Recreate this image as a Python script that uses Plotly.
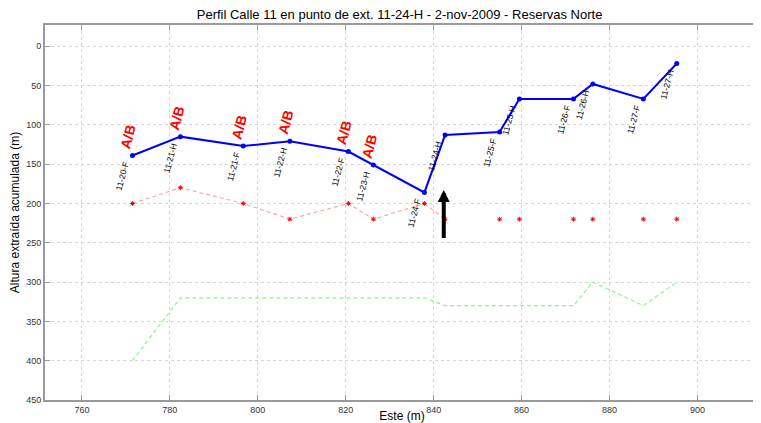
import plotly.graph_objects as go

# Eastings of each extraction point and their labels
este = [771.5, 782.4, 796.7, 807.3, 820.6, 826.3, 837.9, 842.6,
        855.0, 859.5, 871.8, 876.2, 887.7, 895.3]
puntos = ["11-20-F", "11-21-H", "11-21-F", "11-22-H", "11-22-F", "11-23-H",
          "11-24-F", "11-24-H", "11-25-F", "11-25-H", "11-26-F", "11-26-H",
          "11-27-F", "11-27-H"]

altura_extraida = [139, 115, 127, 121, 134, 151, 186, 113, 109, 67, 67, 48, 67, 22]
altura_ref = [200, 180, 200, 220, 200, 220, 200, 220, 220, 220, 220, 220, 220, 220]
n_ref_linea = 8  # the red dashed line stops at 11-24-H, rest are isolated marks
altura_limite = [400, 320, 320, 320, 320, 320, 320, 330, 330, 330, 330, 300, 330, 300]

ab_puntos = ["11-20-F", "11-21-H", "11-21-F", "11-22-H", "11-22-F", "11-23-H"]

# arrow marking the current extraction point
flecha_x = 842.3
flecha_y = [246, 183]

x_ticks = [760, 780, 800, 820, 840, 860, 880, 900]
y_ticks = [0, 50, 100, 150, 200, 250, 300, 350, 400, 450]

FONT = "Liberation Sans, Arial, sans-serif"

fig = go.Figure()

fig.add_trace(go.Scatter(
    x=este, y=altura_limite, mode="lines",
    line=dict(color="#8cf58c", width=1.2, dash="4px,3px"),
    showlegend=False,
))
fig.add_trace(go.Scatter(
    x=este[:n_ref_linea], y=altura_ref[:n_ref_linea], mode="lines",
    line=dict(color="#ffa0a0", width=1.1, dash="4px,3px"),
    showlegend=False,
))
fig.add_trace(go.Scatter(
    x=este, y=altura_ref, mode="markers",
    marker=dict(symbol="asterisk-open", size=4, color="red",
                line=dict(color="red", width=1)),
    showlegend=False,
))
fig.add_trace(go.Scatter(
    x=este, y=altura_extraida, mode="lines+markers",
    line=dict(color="#0000ff", width=2),
    marker=dict(color="#0000ff", size=5),
    showlegend=False,
))

for xv, yv, name in zip(este, altura_extraida, puntos):
    fig.add_annotation(
        x=xv, y=yv, text=name, showarrow=False, textangle=-75,
        xanchor="right", yanchor="top", yshift=-3, xshift=1,
        font=dict(family=FONT, size=8.5, color="black"),
    )
    if name in ab_puntos:
        fig.add_annotation(
            x=xv, y=yv, text="<b>A/B</b>", showarrow=False, textangle=-75,
            xanchor="center", yanchor="bottom", yshift=3, xshift=-4,
            font=dict(family=FONT, size=14, color="red"),
        )

fig.add_annotation(
    x=flecha_x, y=flecha_y[1], ax=flecha_x, ay=flecha_y[0],
    xref="x", yref="y", axref="x", ayref="y",
    text="", showarrow=True, arrowhead=2, arrowsize=0.6,
    arrowwidth=4, arrowcolor="black",
)

# page body has an 8px margin, so the figure is sized 8px smaller
fig.update_layout(
    width=753,
    height=415,
    title=dict(
        text="Perfil Calle 11 en punto de ext. 11-24-H - 2-nov-2009 - Reservas Norte",
        x=0.52, xanchor="center", y=0.995, yanchor="top",
        font=dict(family=FONT, size=13, color="black"),
    ),
    font=dict(family=FONT, size=9, color="#333333"),
    plot_bgcolor="white",
    paper_bgcolor="white",
    margin=dict(l=37, r=0, t=17, b=20),
)

fig.update_xaxes(
    range=[751.6, 914.0], tickvals=x_ticks,
    showgrid=True, gridcolor="#d6d6d6", griddash="dot", gridwidth=1,
    showline=True, linecolor="#9a9a9a", linewidth=2, mirror="ticks",
    ticks="inside", ticklen=5, tickcolor="#9a9a9a",
    zeroline=False,
    title=dict(text="Este (m)", font=dict(family=FONT, size=12, color="black"),
               standoff=0),
)
fig.update_yaxes(
    range=[450, -27], tickvals=y_ticks,
    showgrid=True, gridcolor="#d6d6d6", griddash="dot", gridwidth=1,
    showline=True, linecolor="#9a9a9a", linewidth=2, mirror="ticks",
    ticks="inside", ticklen=5, tickcolor="#9a9a9a",
    zeroline=False,
    title=dict(text="Altura extraída acumulada (m)",
               font=dict(family=FONT, size=12, color="black"), standoff=4),
)

fig.write_html("out.html")
